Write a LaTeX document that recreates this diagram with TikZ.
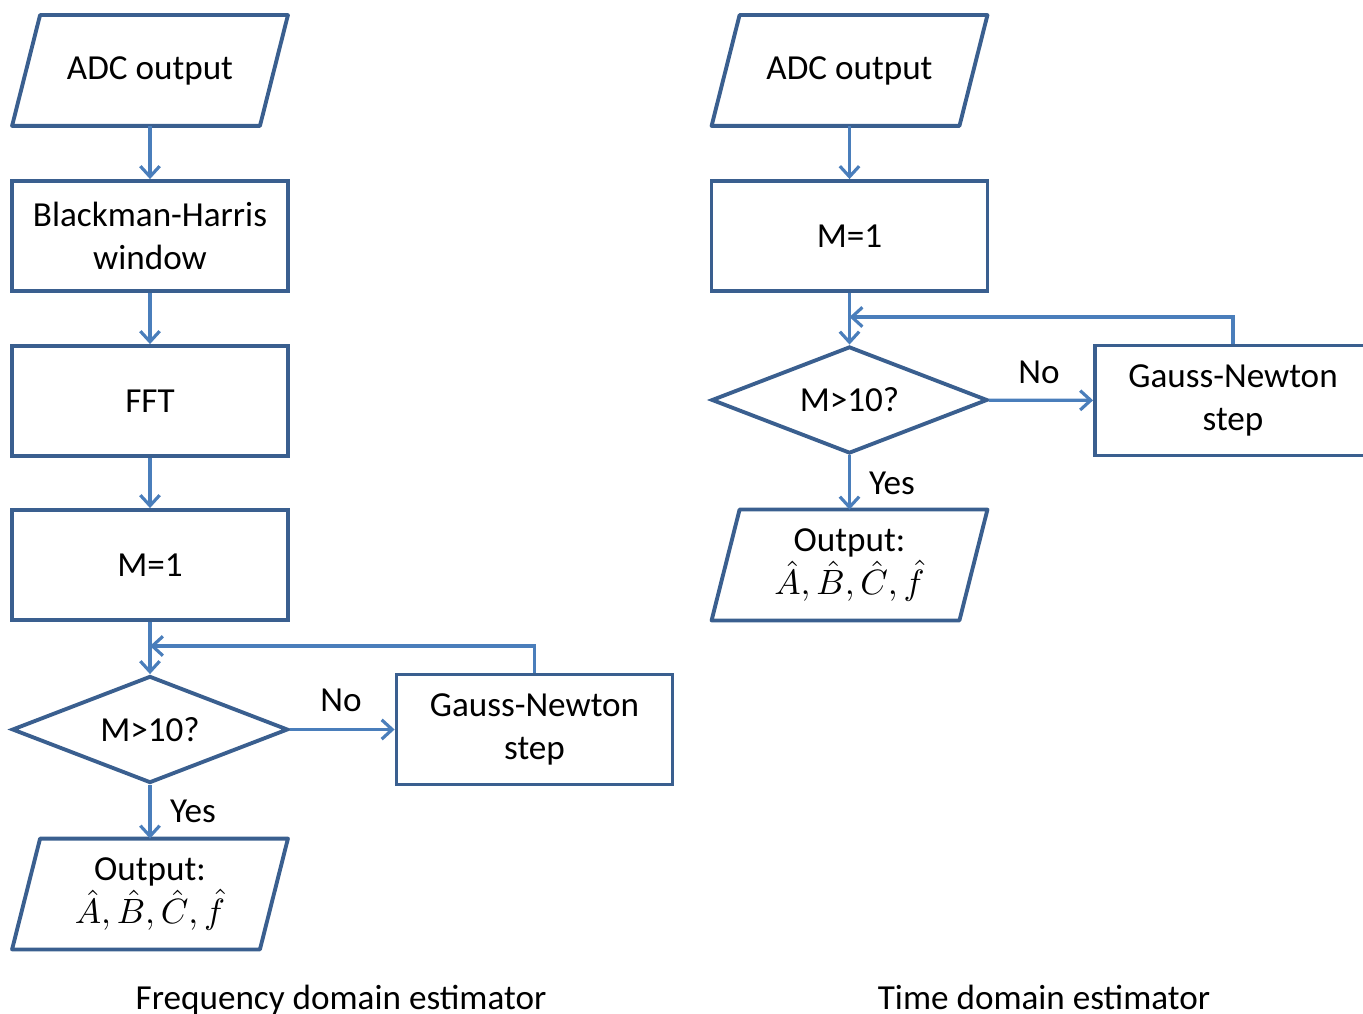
\documentclass[tikz,border=0pt]{standalone}
\usepackage{amsmath}
\usepackage{fontspec}
\setmainfont{Carlito}
\usetikzlibrary{shapes.geometric,arrows.meta}
\definecolor{edgeblue}{HTML}{3A5F8F}
\definecolor{arrowblue}{HTML}{4A7EBB}
\begin{document}
\begin{tikzpicture}[
    font=\fontsize{10}{12}\selectfont,
    box/.style={draw=edgeblue, line width=1.1pt, minimum width=2.76cm,
      minimum height=1.1cm, align=center, inner sep=1pt},
    io/.style={box, draw=none, minimum width=2.72cm, minimum height=1.07cm,  % 平行四边形
      append after command={\pgfextra{
        \draw[edgeblue, line width=1.1pt, line join=round]
          (\tikzlastnode.south west) -- ([xshift=0.28cm]\tikzlastnode.north west)
          -- (\tikzlastnode.north east) -- ([xshift=-0.28cm]\tikzlastnode.south east)
          -- cycle;}}},
    test/.style={box, diamond, aspect=2.6, minimum height=1.07cm, inner sep=0pt},
    arr/.style={draw=arrowblue, line width=0.9pt, -{Straight Barb[length=3pt,width=5.5pt]}}
  ]
    \useasboundingbox (0,0) rectangle (13.63,10.13);
    % 频域估计器
    \node[io]   (adcF) at (1.50,9.425) {ADC output};
    \node[box]  (bh)   at (1.50,7.77)  {Blackman-Harris\\window};
    \node[box]  (fft)  at (1.50,6.12)  {FFT};
    \node[box]  (m1F)  at (1.50,4.48)  {M=1};
    \node[test] (decF) at (1.50,2.835) {M>10?};
    \node[io]   (outF) at (1.50,1.19)  {Output:\\$\hat{A},\hat{B},\hat{C},\hat{f}$};
    \node[box]  (gnF)  at (5.345,2.835) {Gauss-Newton\\step};
    \coordinate (jF) at (1.50,3.67);                        % 回路汇合点
    % 时域估计器
    \node[io]   (adcT) at (8.495,9.425) {ADC output};
    \node[box]  (m1T)  at (8.495,7.77)  {M=1};
    \node[test] (decT) at (8.495,6.13)  {M>10?};
    \node[io]   (outT) at (8.495,4.48)  {Output:\\$\hat{A},\hat{B},\hat{C},\hat{f}$};
    \node[box]  (gnT)  at (12.33,6.125) {Gauss-Newton\\step};
    \coordinate (jT) at (8.495,6.96);
    % 连线
    \foreach \a/\b in {adcF/bh, bh/fft, fft/m1F, m1F/decF, decF/outF,
                       adcT/m1T, m1T/decT, decT/outT} {
      \draw[arr] (\a) -- (\b);
    }
    \draw[arr] (decF) -- (gnF);
    \draw[arr] (decT) -- (gnT);
    \draw[arr] (gnF.north) |- (jF);                        % Gauss-Newton 回路
    \draw[arr] (gnT.north) |- (jT);
    % 文字标签
    \node (noF)  at (3.41,3.13) {No};
    \node (yesF) at (1.93,2.02) {Yes};
    \node (noT)  at (10.39,6.41) {No};
    \node (yesT) at (8.92,5.30) {Yes};
    \node[anchor=base] (capF) at (3.41,0.04) {Frequency domain estimator};
    \node[anchor=base] (capT) at (10.44,0.04) {Time domain estimator};
\end{tikzpicture}
\end{document}
